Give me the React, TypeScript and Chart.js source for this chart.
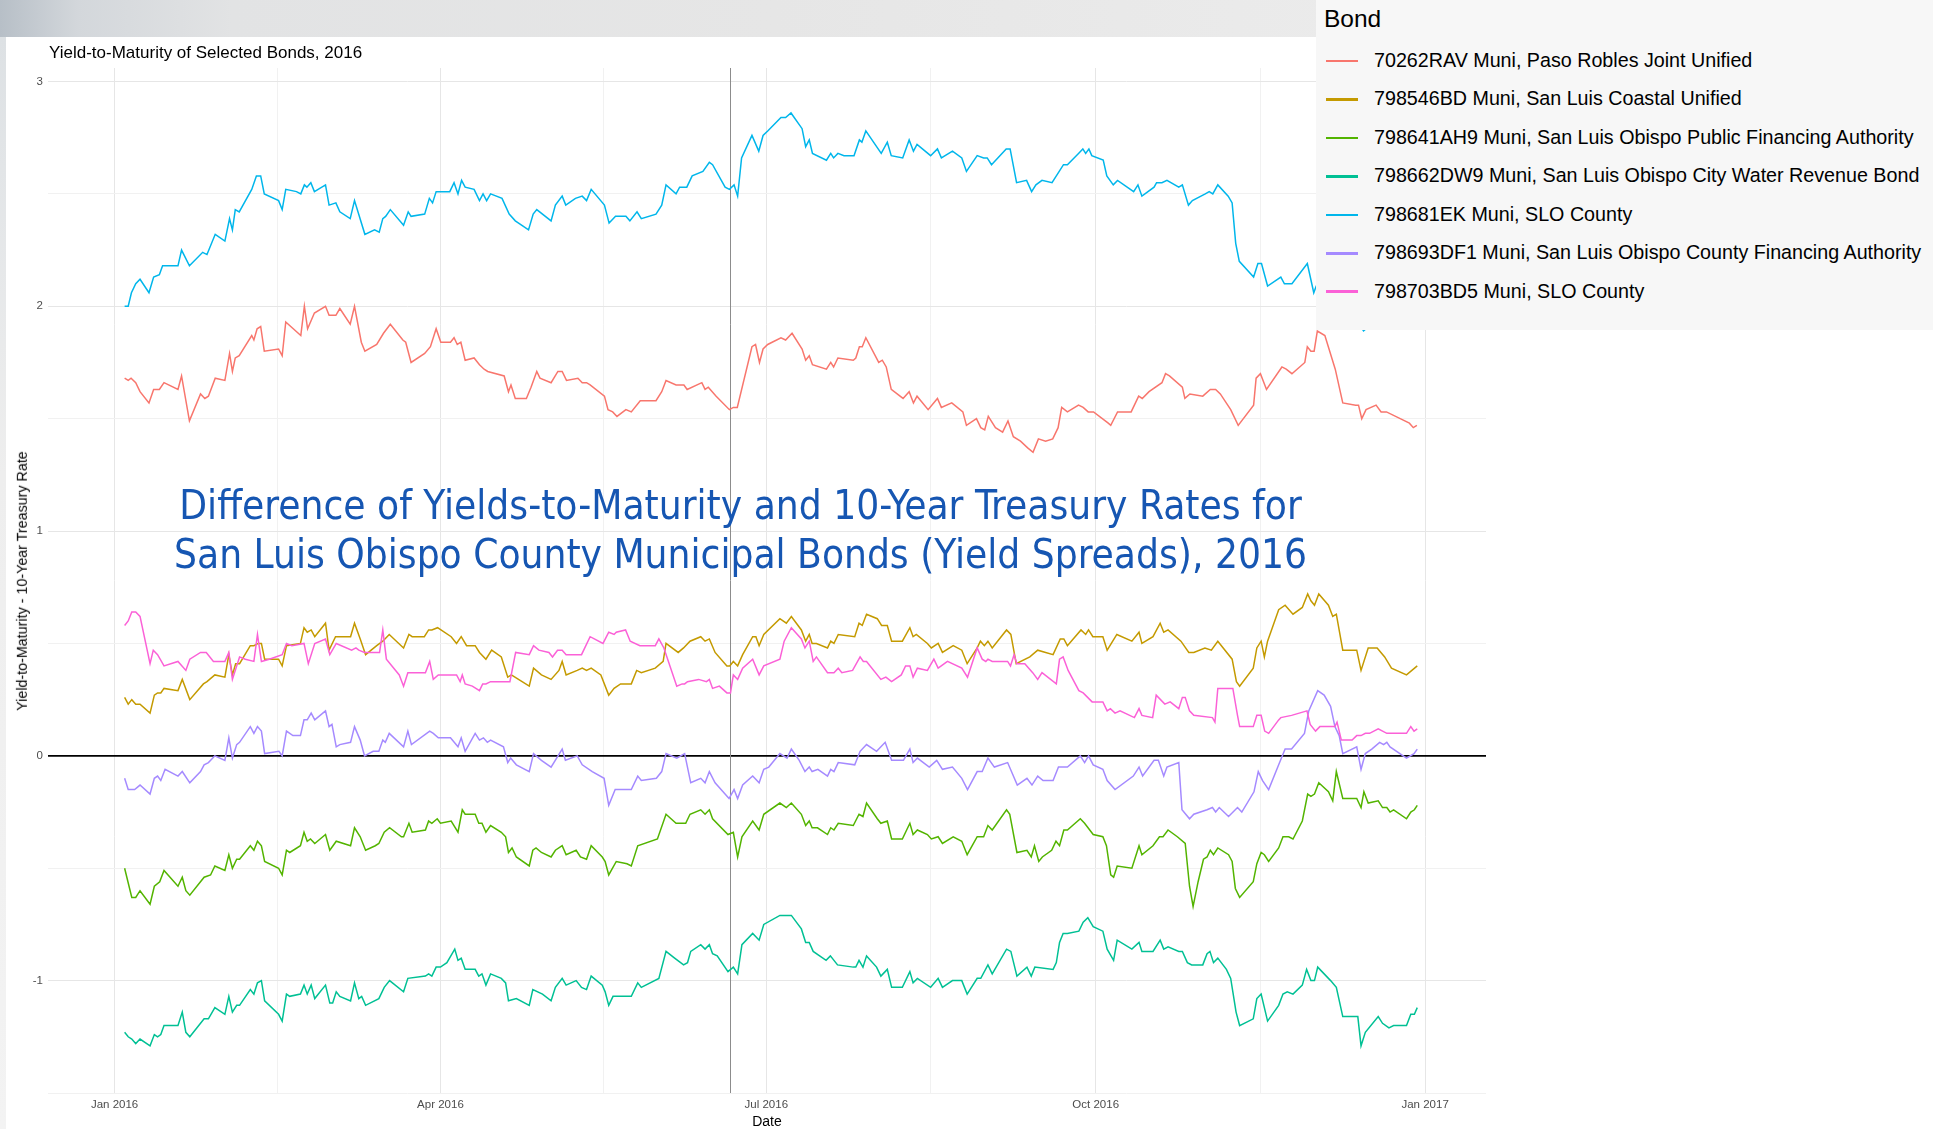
import React, { useEffect, useRef } from 'react';
import { Chart, registerables } from 'chart.js';

Chart.register(...registerables);

// ---------- DATA (day of 2016, 0 = 1 Jan 2016; value = YTM - 10y Treasury) ----------
const BOND_NAMES = [
  '70262RAV Muni, Paso Robles Joint Unified',
  '798546BD Muni, San Luis Coastal Unified',
  '798641AH9 Muni, San Luis Obispo Public Financing Authority',
  '798662DW9 Muni, San Luis Obispo City Water Revenue Bond',
  '798681EK Muni, SLO County',
  '798693DF1 Muni, San Luis Obispo County Financing Authority',
  '798703BD5 Muni, SLO County',
];
const BOND_COLORS = ['#F8766D', '#C49A00', '#53B400', '#00C094', '#00B6EB', '#A58AFF', '#FB61D7'];

const X_TICKS = [0, 45.5, 91, 136.5, 182, 228, 274, 320, 366];
const X_TICK_LABELS = ['Jan 2016', '', 'Apr 2016', '', 'Jul 2016', '', 'Oct 2016', '', 'Jan 2017'];
const Y_TICKS = [-1.5, -1, -0.5, 0, 0.5, 1, 1.5, 2, 2.5, 3];
const Y_TICK_LABELS = ['', '-1', '', '0', '', '1', '', '2', '', '3'];
const MARKER_DAY = 172;

const RED_70262RAV = [[2.8,1.68],[3.8,1.67],[4.6,1.68],[5.9,1.66],[7.1,1.62],[9.6,1.57],[10.9,1.63],[12.5,1.63],[13.8,1.66],[17.7,1.63],[18.7,1.69],[20.9,1.49],[24,1.61],[25.2,1.59],[26.2,1.60],[28.1,1.68],[30.8,1.67],[32.1,1.79],[32.9,1.71],[33.7,1.77],[34.8,1.78],[38.3,1.87],[38.9,1.85],[39.8,1.90],[40.8,1.91],[41.8,1.80],[45.8,1.81],[46.8,1.78],[47.8,1.93],[52,1.87],[53,2.00],[53.9,1.90],[55.8,1.97],[58.9,2.00],[59.9,1.96],[61.8,1.96],[62.9,1.99],[65.8,1.92],[67,2.00],[68.9,1.84],[69.9,1.80],[73.2,1.83],[75.1,1.88],[77,1.92],[80.5,1.85],[81.3,1.84],[82.8,1.75],[86.6,1.79],[88.2,1.82],[89.8,1.90],[91.1,1.84],[93.8,1.84],[94.8,1.86],[95.7,1.83],[96.7,1.84],[97.9,1.76],[100.4,1.77],[101.9,1.74],[103.2,1.72],[104.2,1.71],[108.8,1.69],[110,1.62],[110.7,1.65],[111.9,1.59],[115,1.59],[116.3,1.64],[117.9,1.71],[118.8,1.68],[121.9,1.66],[123.8,1.71],[125,1.71],[126.2,1.67],[129.4,1.68],[130.6,1.66],[131.8,1.66],[132.8,1.65],[136.8,1.60],[137.8,1.54],[139.1,1.53],[140.3,1.51],[142.8,1.54],[144.3,1.53],[146.8,1.58],[151.2,1.58],[152.8,1.62],[154,1.67],[156.8,1.65],[159,1.65],[159.9,1.63],[164,1.66],[164.9,1.63],[165.8,1.64],[168,1.60],[171.7,1.54],[172.8,1.55],[173.9,1.55],[178,1.82],[179,1.83],[180.1,1.75],[181.1,1.81],[182.4,1.83],[186.1,1.86],[187.4,1.85],[189.2,1.88],[192,1.81],[193,1.76],[194,1.78],[194.9,1.74],[198.8,1.72],[200,1.75],[200.8,1.73],[202,1.77],[206.3,1.76],[207,1.77],[208,1.82],[208.8,1.82],[209.8,1.86],[213.4,1.75],[214.4,1.76],[215.5,1.73],[216.9,1.63],[220.2,1.59],[221.9,1.62],[223.1,1.57],[224.1,1.60],[227.2,1.54],[229.8,1.59],[230.9,1.55],[233.8,1.57],[236.9,1.53],[237.9,1.47],[240.7,1.50],[241.9,1.46],[243,1.45],[244,1.51],[246,1.46],[248,1.44],[249.5,1.49],[251,1.42],[253,1.40],[255,1.37],[256.5,1.35],[258,1.41],[260,1.40],[262,1.41],[263.5,1.46],[264.5,1.55],[266.1,1.53],[269.2,1.56],[270.5,1.55],[271.9,1.53],[273.4,1.53],[277.5,1.48],[278.2,1.47],[280.1,1.53],[283.9,1.53],[286,1.60],[287,1.59],[288.9,1.62],[292.5,1.66],[293.5,1.70],[294.6,1.69],[298.2,1.64],[298.9,1.59],[300.3,1.61],[303.9,1.60],[306,1.63],[307.5,1.63],[308.8,1.61],[311.7,1.54],[313.8,1.47],[318.1,1.56],[318.8,1.68],[320,1.70],[321.7,1.63],[326,1.73],[327.2,1.72],[328.8,1.70],[332.4,1.75],[333.1,1.82],[334.1,1.80],[335,1.80],[335.9,1.89],[338,1.87],[340.9,1.72],[343,1.57],[346.6,1.56],[347.4,1.56],[348.3,1.50],[349.5,1.54],[352.3,1.56],[353.7,1.53],[355.2,1.53],[361.6,1.48],[362.7,1.46],[363.7,1.47]];

const GOLD_798546BD = [[2.8,0.26],[3.8,0.23],[4.8,0.25],[5.9,0.23],[7.1,0.23],[9.9,0.19],[11.1,0.27],[12,0.28],[12.9,0.28],[13.8,0.30],[17.7,0.29],[18.9,0.34],[21,0.25],[24.8,0.32],[25.8,0.33],[28,0.36],[30.8,0.35],[31.9,0.45],[32.9,0.36],[33.8,0.41],[34.9,0.41],[37.9,0.49],[38.9,0.49],[40.1,0.50],[41,0.50],[41.9,0.43],[45.8,0.43],[46.8,0.40],[48,0.49],[51.9,0.50],[52.9,0.57],[53.8,0.55],[54.9,0.56],[55.9,0.53],[58.9,0.59],[59.9,0.47],[61.7,0.53],[62.9,0.53],[65.9,0.53],[67,0.59],[68.6,0.52],[70.1,0.45],[73.2,0.49],[74.9,0.51],[76.7,0.54],[80.7,0.48],[82.2,0.54],[83.1,0.53],[86.5,0.53],[87.7,0.56],[88.6,0.56],[90.2,0.57],[94,0.53],[95.5,0.50],[96.8,0.53],[98.3,0.49],[100.7,0.49],[101.9,0.46],[103.7,0.43],[105.3,0.47],[108,0.44],[109.8,0.35],[110.8,0.36],[115.8,0.31],[117,0.39],[119.2,0.36],[121.9,0.34],[124.1,0.38],[125,0.42],[126.1,0.36],[129.2,0.38],[130.6,0.39],[131.8,0.38],[133.1,0.39],[135.8,0.36],[138,0.27],[139.5,0.30],[141.3,0.32],[144.3,0.32],[145.8,0.38],[147.1,0.37],[151,0.39],[153.2,0.42],[154,0.50],[157.4,0.46],[158.9,0.48],[160.7,0.51],[163.7,0.53],[164.9,0.51],[166.1,0.52],[167.7,0.46],[171,0.40],[171.8,0.40],[172.8,0.42],[174,0.40],[175.4,0.45],[178.2,0.53],[179.1,0.53],[180,0.49],[181.3,0.54],[185.8,0.61],[187.6,0.59],[189,0.62],[191.8,0.56],[193,0.51],[194,0.54],[194.8,0.50],[196,0.50],[199.1,0.48],[200,0.51],[200.9,0.50],[202.1,0.54],[206.7,0.53],[207.9,0.59],[208.8,0.58],[210,0.63],[213,0.61],[214.2,0.58],[215.8,0.58],[217,0.51],[220,0.51],[222.1,0.57],[223,0.53],[223.9,0.54],[227,0.50],[228.1,0.48],[230,0.50],[231.2,0.46],[234.2,0.49],[236.6,0.47],[238.1,0.41],[240.9,0.48],[241.8,0.51],[242.9,0.49],[243.9,0.51],[245.1,0.48],[249.1,0.56],[250.3,0.54],[251.8,0.41],[255.6,0.44],[257.8,0.47],[262.1,0.45],[264.1,0.52],[265.1,0.52],[266.1,0.49],[269.9,0.56],[271.2,0.54],[272,0.56],[273.2,0.53],[276,0.53],[277.2,0.47],[279.9,0.54],[284.1,0.51],[286.1,0.55],[286.9,0.50],[290,0.53],[292,0.59],[293,0.55],[294.2,0.56],[297.8,0.51],[300,0.46],[301.4,0.46],[304.5,0.48],[306.3,0.47],[308.1,0.51],[312.1,0.43],[313.3,0.33],[314.2,0.31],[318,0.39],[319,0.48],[320.2,0.51],[321.1,0.44],[322,0.51],[325.1,0.65],[326.9,0.67],[329.1,0.63],[331.7,0.66],[333.2,0.72],[334.1,0.69],[335.1,0.67],[336.3,0.72],[339,0.67],[340.2,0.62],[341.2,0.63],[343,0.47],[346.9,0.47],[348.1,0.38],[350.1,0.48],[352.6,0.48],[354.7,0.44],[356.6,0.39],[360.8,0.36],[363.8,0.40]];

const GREEN_798641AH9 = [[2.8,-0.50],[4.8,-0.63],[5.9,-0.63],[7.1,-0.60],[9.9,-0.66],[11.1,-0.58],[12.6,-0.56],[13.8,-0.51],[17.7,-0.58],[18.9,-0.54],[19.9,-0.60],[21,-0.62],[25,-0.54],[26.8,-0.53],[28,-0.49],[30.8,-0.51],[31.9,-0.44],[32.9,-0.50],[34.1,-0.46],[34.9,-0.46],[37.9,-0.40],[38.9,-0.42],[39.9,-0.38],[41,-0.40],[41.9,-0.47],[45.8,-0.50],[46.8,-0.53],[48,-0.42],[48.9,-0.43],[51.9,-0.40],[52.9,-0.34],[53.8,-0.38],[54.7,-0.37],[55.9,-0.39],[58.9,-0.35],[60.1,-0.42],[61.9,-0.38],[65.9,-0.40],[67,-0.32],[68.6,-0.36],[70.1,-0.42],[72.8,-0.40],[73.8,-0.39],[75.3,-0.34],[76.8,-0.32],[80.1,-0.36],[80.7,-0.36],[82.2,-0.30],[83.1,-0.34],[86.8,-0.33],[87.7,-0.29],[88.6,-0.30],[90.1,-0.28],[91,-0.30],[94,-0.29],[95.9,-0.34],[97.1,-0.24],[97.9,-0.26],[100.7,-0.26],[101.7,-0.30],[102.6,-0.30],[103.7,-0.34],[105,-0.31],[108,-0.34],[109.2,-0.36],[110,-0.43],[111,-0.41],[112.2,-0.45],[115.8,-0.49],[116.8,-0.42],[117.7,-0.41],[119.2,-0.43],[121.9,-0.45],[123.1,-0.42],[125,-0.40],[126.1,-0.44],[128.9,-0.42],[130.1,-0.45],[131.8,-0.46],[133.1,-0.40],[136.2,-0.45],[137,-0.47],[138,-0.53],[140.1,-0.47],[143.1,-0.48],[144.3,-0.49],[146.1,-0.40],[151.6,-0.37],[154,-0.26],[156.8,-0.30],[159.5,-0.30],[160.7,-0.26],[163.7,-0.24],[164.9,-0.26],[166.1,-0.24],[167,-0.28],[171.3,-0.35],[172.8,-0.34],[174,-0.45],[175.2,-0.36],[178.2,-0.29],[180,-0.33],[181.3,-0.26],[185.8,-0.21],[187.6,-0.23],[189,-0.21],[191.8,-0.26],[193,-0.31],[194,-0.29],[194.8,-0.32],[196.3,-0.32],[199.1,-0.35],[200,-0.32],[200.9,-0.33],[202.1,-0.30],[206.3,-0.31],[207.9,-0.26],[209,-0.27],[210,-0.21],[213,-0.28],[214,-0.30],[215.8,-0.29],[217,-0.37],[220,-0.37],[222.1,-0.30],[223,-0.35],[224.2,-0.33],[227,-0.35],[228.1,-0.37],[230,-0.36],[231.2,-0.39],[234.2,-0.36],[236.6,-0.38],[238.1,-0.44],[240.9,-0.36],[242.7,-0.36],[243.9,-0.31],[245.1,-0.33],[249.1,-0.24],[250,-0.26],[252,-0.43],[254.8,-0.42],[256,-0.45],[256.9,-0.40],[258.1,-0.47],[259.1,-0.45],[261.7,-0.42],[262.9,-0.38],[263.9,-0.40],[265.1,-0.33],[266.1,-0.33],[269.7,-0.28],[270.9,-0.30],[273.3,-0.35],[276,-0.36],[277,-0.40],[278.2,-0.53],[279,-0.54],[280,-0.49],[284.1,-0.50],[286.1,-0.40],[286.9,-0.44],[290,-0.40],[291.8,-0.36],[292.8,-0.36],[294.2,-0.33],[296.8,-0.36],[299,-0.39],[300.2,-0.58],[301.2,-0.67],[302.6,-0.56],[304.1,-0.46],[305.1,-0.45],[306,-0.42],[306.9,-0.44],[308.1,-0.41],[311.1,-0.44],[312.1,-0.47],[313,-0.59],[314.2,-0.63],[318,-0.56],[319,-0.48],[320.2,-0.43],[321.1,-0.44],[322.3,-0.47],[325.1,-0.41],[326.3,-0.36],[327.9,-0.36],[329.1,-0.37],[331.7,-0.29],[333.2,-0.17],[334.1,-0.18],[335.1,-0.17],[336.3,-0.12],[339,-0.16],[340.2,-0.20],[341.2,-0.07],[343,-0.19],[346.9,-0.19],[348.1,-0.23],[348.9,-0.16],[350.1,-0.21],[352.9,-0.20],[354.1,-0.23],[355.3,-0.23],[356.2,-0.25],[357.2,-0.24],[360.8,-0.28],[362,-0.25],[363,-0.24],[363.8,-0.22]];

const TEAL_798662DW9 = [[2.8,-1.23],[3.8,-1.25],[4.8,-1.26],[5.9,-1.28],[7.1,-1.26],[9.9,-1.29],[11.1,-1.24],[12,-1.25],[12.9,-1.24],[13.8,-1.20],[17.7,-1.20],[18.9,-1.14],[19.9,-1.23],[21,-1.25],[25,-1.17],[26.2,-1.17],[28,-1.12],[30.8,-1.15],[31.9,-1.07],[32.9,-1.14],[34.1,-1.11],[34.9,-1.11],[37.9,-1.04],[38.9,-1.06],[39.9,-1.01],[41,-1.00],[41.9,-1.09],[45.8,-1.15],[46.8,-1.18],[48,-1.06],[48.9,-1.07],[51.9,-1.06],[52.9,-1.02],[53.8,-1.06],[54.9,-1.02],[55.9,-1.08],[58.9,-1.02],[60.1,-1.10],[60.9,-1.10],[61.9,-1.05],[62.9,-1.07],[65.9,-1.09],[67,-1.01],[68.2,-1.08],[69,-1.07],[70.1,-1.11],[73.8,-1.08],[75.3,-1.03],[76.8,-1.00],[80.7,-1.05],[81.9,-0.99],[86.8,-0.98],[87.7,-0.97],[88.6,-0.98],[89.8,-0.94],[91,-0.94],[92.8,-0.92],[95,-0.86],[95.9,-0.91],[96.8,-0.90],[97.9,-0.95],[100.7,-0.95],[101.7,-0.98],[102.6,-0.97],[103.7,-1.02],[105,-0.97],[108,-0.99],[109.2,-1.01],[110,-1.09],[112.2,-1.08],[115.8,-1.11],[116.8,-1.04],[119.5,-1.06],[121.9,-1.09],[123.1,-1.03],[125,-0.99],[126.1,-1.02],[128.9,-1.00],[130.4,-1.03],[131.8,-1.04],[133.1,-0.98],[136.2,-1.02],[137,-1.05],[138,-1.11],[139.2,-1.07],[144.3,-1.07],[146.1,-1.01],[147.1,-1.03],[152,-0.99],[154,-0.87],[156.4,-0.90],[158.9,-0.93],[160,-0.92],[160.9,-0.87],[163.7,-0.84],[164.9,-0.86],[166.1,-0.84],[167,-0.88],[168.3,-0.89],[171.3,-0.96],[172.8,-0.94],[174,-0.97],[175.2,-0.84],[178.2,-0.79],[180,-0.82],[181.3,-0.75],[185.8,-0.71],[187.6,-0.71],[189,-0.71],[191.8,-0.77],[193,-0.83],[194,-0.83],[195.1,-0.87],[198.7,-0.91],[199.9,-0.89],[201.9,-0.93],[206.3,-0.94],[207,-0.94],[207.9,-0.91],[209,-0.94],[210,-0.89],[212.8,-0.94],[214,-0.98],[215.8,-0.95],[217,-1.03],[220,-1.03],[222.1,-0.96],[223,-1.01],[224.2,-0.99],[227.9,-1.03],[230,-0.99],[231.2,-1.03],[234,-1.00],[236.6,-1.00],[238.1,-1.06],[240.9,-0.99],[241.9,-0.99],[243.9,-0.93],[245.1,-0.97],[249.1,-0.86],[250.3,-0.87],[252,-0.98],[254.8,-0.94],[256,-0.98],[257,-0.94],[262.1,-0.95],[263,-0.92],[263.9,-0.83],[264.9,-0.79],[266.1,-0.79],[269.3,-0.78],[270.5,-0.74],[271.8,-0.72],[273.3,-0.76],[276,-0.78],[277.2,-0.86],[279,-0.91],[280,-0.82],[284.1,-0.86],[286.1,-0.83],[286.9,-0.87],[290,-0.87],[292,-0.82],[293,-0.86],[294.2,-0.85],[297.2,-0.87],[298.2,-0.87],[299.6,-0.92],[300.8,-0.93],[303.9,-0.93],[305.1,-0.88],[305.9,-0.87],[306.9,-0.92],[308.1,-0.90],[310.5,-0.95],[311.7,-0.99],[312.3,-1.05],[313.2,-1.14],[314.2,-1.20],[318,-1.17],[319,-1.08],[320.2,-1.06],[322,-1.18],[325.1,-1.11],[326.3,-1.06],[327.5,-1.05],[329.1,-1.06],[331.7,-1.02],[332.9,-0.95],[334.1,-1.00],[335.1,-1.00],[336,-0.94],[339.6,-1.00],[341.2,-1.03],[343,-1.16],[346.3,-1.16],[347.2,-1.16],[348.1,-1.29],[349.3,-1.23],[352.9,-1.16],[354.1,-1.19],[355.9,-1.21],[357.2,-1.20],[360.8,-1.20],[362,-1.15],[363,-1.15],[363.8,-1.12]];

const CYAN_798681EK = [[2.8,2.00],[3.8,2.00],[4.7,2.06],[5.9,2.10],[7.1,2.12],[9.6,2.06],[10.9,2.13],[12.5,2.14],[13.4,2.18],[17.7,2.18],[18.7,2.25],[20.9,2.18],[24.6,2.24],[25.8,2.23],[28.1,2.32],[30.8,2.29],[32.1,2.39],[32.9,2.34],[33.7,2.43],[34.8,2.42],[38.3,2.52],[39.6,2.58],[40.8,2.58],[41.8,2.50],[45.8,2.47],[46.8,2.43],[47.8,2.52],[50.8,2.51],[52,2.50],[53,2.54],[53.7,2.53],[54.8,2.55],[55.8,2.51],[58.9,2.54],[59.9,2.45],[61.8,2.46],[62.9,2.42],[65.8,2.39],[67,2.47],[69.9,2.32],[72.6,2.34],[73.9,2.33],[74.9,2.39],[75.7,2.40],[77,2.43],[80.7,2.36],[82,2.42],[82.8,2.40],[86.6,2.41],[87.9,2.48],[88.8,2.46],[89.8,2.51],[93.6,2.51],[94.8,2.55],[95.9,2.50],[96.9,2.56],[97.9,2.53],[100.4,2.52],[101.9,2.47],[102.9,2.50],[103.9,2.47],[105,2.50],[108.2,2.48],[110.2,2.41],[111.9,2.38],[115.6,2.34],[116.9,2.41],[117.9,2.43],[121.9,2.38],[123.1,2.45],[125,2.49],[126,2.45],[128.7,2.48],[130.6,2.49],[131.8,2.47],[133.1,2.52],[136.8,2.45],[138.1,2.37],[139.9,2.40],[142.8,2.40],[143.9,2.38],[145.9,2.42],[147.1,2.39],[151.2,2.41],[152.8,2.45],[154,2.54],[156.8,2.50],[157.8,2.53],[159.8,2.53],[161.3,2.58],[164.3,2.60],[166.1,2.64],[167,2.63],[170.5,2.53],[171.7,2.52],[173,2.54],[174,2.49],[175.1,2.66],[178,2.76],[179.9,2.69],[181.1,2.76],[182.4,2.78],[186.1,2.84],[187.4,2.84],[188.9,2.86],[192,2.79],[193,2.71],[194,2.74],[194.9,2.68],[198.8,2.65],[200,2.68],[200.8,2.66],[202,2.68],[203.7,2.67],[206.5,2.67],[208,2.74],[208.7,2.73],[209.8,2.78],[214.1,2.68],[215.8,2.73],[216.9,2.67],[220.1,2.66],[221.9,2.74],[223.1,2.69],[224.1,2.72],[227.9,2.67],[229.8,2.70],[230.9,2.66],[234,2.69],[236.6,2.66],[237.9,2.60],[240.9,2.67],[242.7,2.66],[243.7,2.66],[244.9,2.63],[249,2.70],[250.1,2.70],[251.9,2.55],[254.7,2.56],[256.1,2.51],[257.3,2.54],[259,2.56],[261.8,2.55],[265,2.63],[266.1,2.63],[269.2,2.68],[270.4,2.70],[271.2,2.68],[272.1,2.70],[272.9,2.67],[276.1,2.65],[277.1,2.58],[278.9,2.54],[280.1,2.56],[284.6,2.51],[285.8,2.54],[286.9,2.49],[290.3,2.53],[291,2.55],[292.5,2.55],[293.9,2.56],[297.2,2.53],[298.2,2.54],[299.9,2.45],[301,2.47],[304.6,2.50],[305.7,2.51],[306.7,2.50],[308.1,2.54],[311,2.49],[312.1,2.46],[313.1,2.28],[314.1,2.20],[318.1,2.13],[319.3,2.19],[320.3,2.19],[322,2.09],[325.7,2.13],[326.7,2.10],[328.8,2.10],[333.1,2.19],[334.9,2.06],[335.6,2.09],[338,2.12],[341,2.03],[344,2.05],[346,1.96],[348.8,1.89],[351,1.92],[354,1.96],[357,1.93],[360,1.95],[363.7,1.91]];

const PURPLE_798693DF1 = [[2.8,-0.10],[3.8,-0.15],[5.6,-0.15],[7.1,-0.13],[9.9,-0.17],[11.1,-0.10],[12,-0.09],[12.9,-0.11],[14.1,-0.06],[17.7,-0.09],[18.9,-0.07],[21,-0.12],[24,-0.07],[25,-0.04],[26.2,-0.03],[28,0.00],[30.8,-0.02],[31.9,0.08],[32.9,-0.01],[34.1,0.05],[34.9,0.06],[37.9,0.13],[38.9,0.10],[39.9,0.13],[41,0.11],[41.9,0.01],[45.9,0.02],[46.8,0.00],[48,0.11],[49.8,0.09],[51.9,0.09],[52.9,0.16],[53.8,0.16],[54.9,0.19],[55.9,0.16],[58.9,0.20],[59.9,0.13],[60.7,0.14],[61.9,0.04],[62.9,0.05],[65.9,0.06],[67,0.13],[68.6,0.07],[69.8,0.00],[72.2,0.02],[73.8,0.02],[74.9,0.07],[75.6,0.06],[76.7,0.10],[80.7,0.04],[81.9,0.11],[82.9,0.05],[88,0.11],[89,0.10],[90.4,0.08],[93.8,0.08],[95.9,0.04],[96.8,0.08],[97.9,0.02],[100.7,0.10],[101.9,0.07],[103,0.08],[104.1,0.06],[105,0.07],[108.6,0.04],[109.8,-0.03],[110.6,-0.01],[112.2,-0.04],[115.8,-0.07],[117,0.01],[119.2,-0.02],[121.9,-0.05],[125,0.03],[125.9,-0.02],[129.2,0.00],[130.6,-0.04],[133.4,-0.07],[136.7,-0.10],[138,-0.22],[139.8,-0.15],[144.3,-0.15],[146.1,-0.09],[147.1,-0.11],[151.3,-0.10],[152.8,-0.07],[154,0.01],[157,-0.01],[159.2,0.01],[160.9,-0.12],[163.7,-0.10],[164.9,-0.12],[166.1,-0.07],[167.7,-0.12],[171.6,-0.19],[173,-0.15],[174,-0.19],[175.4,-0.13],[178.2,-0.09],[180,-0.12],[181.3,-0.06],[182.7,-0.05],[185.8,0.01],[187.8,-0.01],[189,0.03],[191.2,-0.02],[192.8,-0.07],[194,-0.05],[194.8,-0.07],[196.4,-0.06],[199.1,-0.09],[200,-0.06],[200.9,-0.07],[202.1,-0.03],[206.7,-0.04],[208.2,0.02],[210,0.05],[212.8,0.02],[215.2,0.06],[217,-0.02],[220.3,-0.02],[222.1,0.03],[223,-0.03],[224.2,-0.01],[227.5,-0.05],[229.6,-0.02],[231.2,-0.06],[234,-0.05],[236.6,-0.10],[238.2,-0.15],[240.9,-0.07],[242.3,-0.07],[243.9,-0.01],[245.7,-0.05],[249.4,-0.03],[252.1,-0.13],[254.8,-0.10],[256.2,-0.13],[257.8,-0.09],[259.3,-0.11],[262.1,-0.11],[263.6,-0.05],[266.1,-0.05],[269.7,0.00],[270.9,-0.03],[272,0.00],[273.3,-0.04],[276,-0.06],[277.2,-0.11],[279.4,-0.15],[284.5,-0.09],[286.1,-0.05],[287.1,-0.09],[290.3,-0.02],[291.5,-0.02],[293,-0.09],[293.9,-0.05],[297.2,-0.03],[298.1,-0.24],[300.2,-0.28],[301.4,-0.26],[305.1,-0.24],[306.6,-0.23],[307.5,-0.25],[308.5,-0.23],[311.1,-0.27],[313.6,-0.23],[314.8,-0.25],[318.2,-0.16],[319.4,-0.07],[320.6,-0.11],[322.3,-0.15],[325.1,-0.04],[326.9,0.03],[328.7,0.03],[332.3,0.10],[333.5,0.20],[336,0.29],[337.8,0.27],[339.6,0.22],[340.8,0.13],[342,0.09],[343,0.01],[346.9,0.04],[348.1,-0.06],[349.3,0.01],[351.1,0.03],[353.3,0.06],[354.4,0.05],[355.3,0.06],[356.2,0.04],[360.8,-0.01],[362.9,0.01],[363.8,0.03]];

const PINK_798703BD5 = [[2.8,0.58],[3.8,0.60],[4.8,0.64],[5.9,0.64],[7.1,0.62],[9.9,0.41],[10.8,0.47],[12,0.45],[13.8,0.40],[17.7,0.42],[19.9,0.38],[21,0.43],[24,0.46],[25.6,0.46],[27.6,0.42],[30.8,0.42],[31.9,0.46],[32.9,0.34],[34.9,0.44],[36.5,0.43],[38.9,0.42],[39.9,0.54],[41,0.42],[43.2,0.43],[46.8,0.45],[48,0.50],[49.5,0.49],[52.9,0.50],[54.1,0.41],[55.9,0.50],[58.9,0.52],[60.1,0.45],[61.9,0.50],[66.2,0.47],[67.4,0.48],[68.2,0.47],[69.8,0.46],[74,0.46],[74.9,0.56],[75.9,0.43],[79.5,0.36],[80.7,0.31],[81.9,0.37],[83.1,0.37],[86.8,0.37],[88,0.42],[89,0.34],[90.4,0.36],[94,0.36],[95.5,0.36],[96.5,0.33],[97.1,0.36],[97.9,0.32],[99.9,0.31],[101.9,0.29],[102.8,0.32],[103.7,0.32],[105,0.33],[108.6,0.33],[110.4,0.33],[112,0.46],[115.8,0.45],[117,0.49],[118.5,0.47],[121.3,0.46],[122.3,0.44],[123.7,0.47],[125,0.47],[126.1,0.45],[130.4,0.45],[132.8,0.53],[136.4,0.50],[138,0.55],[139.5,0.54],[140.1,0.55],[142.7,0.56],[144,0.51],[146.7,0.49],[151,0.49],[152,0.52],[153.4,0.48],[157,0.31],[158.5,0.32],[159.2,0.32],[160,0.33],[163.1,0.34],[165.3,0.33],[166.1,0.34],[167,0.30],[168.9,0.31],[171,0.28],[172,0.28],[172.8,0.36],[174,0.34],[175.4,0.39],[178.2,0.43],[180,0.36],[181.3,0.40],[185.8,0.43],[187,0.51],[189,0.57],[191.8,0.52],[192.8,0.48],[194,0.51],[195.1,0.42],[196,0.44],[199.1,0.37],[200.9,0.37],[202.1,0.39],[203.1,0.37],[206.1,0.38],[208.2,0.44],[209.1,0.42],[210,0.42],[214,0.34],[215.4,0.35],[217,0.33],[219.7,0.36],[220.9,0.40],[222.1,0.40],[223,0.35],[224.2,0.39],[227,0.38],[228.8,0.43],[230,0.39],[232.6,0.42],[236.6,0.39],[238.2,0.35],[240.9,0.48],[242.3,0.43],[243.3,0.42],[243.9,0.43],[245.1,0.42],[249.4,0.42],[250.2,0.40],[251.2,0.45],[252,0.41],[254.2,0.41],[256.4,0.37],[257.8,0.34],[259,0.37],[263,0.32],[263.9,0.43],[264.9,0.44],[266.3,0.38],[269.3,0.29],[270.5,0.28],[273,0.24],[276,0.24],[277.2,0.20],[278.1,0.21],[279.4,0.19],[280.8,0.20],[284.8,0.17],[286.1,0.21],[286.9,0.18],[289.9,0.17],[290.9,0.27],[293.3,0.23],[294.8,0.24],[297.2,0.21],[298.2,0.26],[299,0.26],[300.2,0.20],[301.4,0.18],[306.6,0.17],[307.3,0.15],[308.1,0.30],[311.7,0.30],[312.3,0.30],[313.6,0.18],[314.2,0.13],[318,0.13],[319,0.18],[320.2,0.18],[321.2,0.11],[322.3,0.10],[325.1,0.16],[325.7,0.17],[328.7,0.18],[333,0.20],[333.9,0.14],[335.4,0.11],[336.6,0.13],[340.8,0.13],[341.4,0.15],[342.6,0.07],[345.6,0.07],[346.9,0.09],[348.1,0.09],[349.3,0.10],[350.5,0.10],[352.9,0.12],[355.3,0.10],[357.2,0.10],[360.8,0.10],[362,0.13],[362.9,0.11],[363.8,0.12]];

const SERIES = [RED_70262RAV, GOLD_798546BD, GREEN_798641AH9, TEAL_798662DW9, CYAN_798681EK, PURPLE_798693DF1, PINK_798703BD5];

// ---------- STYLE ----------
const SANS = '"Liberation Sans", Arial, Helvetica, sans-serif';
const W = 1933;
const H = 1129;

const markerPlugin = {
  id: 'marker',
  beforeDatasetsDraw(chart: any) {
    const { ctx, chartArea, scales } = chart;
    const x = Math.round(scales.x.getPixelForValue(MARKER_DAY)) + 0.5;
    ctx.save();
    ctx.strokeStyle = '#8c8c8c';
    ctx.lineWidth = 1;
    ctx.beginPath();
    ctx.moveTo(x, chartArea.top);
    ctx.lineTo(x, chartArea.bottom);
    ctx.stroke();
    ctx.restore();
  },
};

export default function App() {
  const canvasRef = useRef<HTMLCanvasElement | null>(null);

  useEffect(() => {
    const canvas = canvasRef.current;
    if (!canvas) return;
    const chart = new Chart(canvas, {
      type: 'line',
      data: {
        datasets: SERIES.map((pts, i) => ({
          label: BOND_NAMES[i],
          data: pts.map(([d, v]) => ({ x: d, y: v })),
          borderColor: BOND_COLORS[i],
          backgroundColor: BOND_COLORS[i],
          borderWidth: 1.5,
          pointRadius: 0,
          tension: 0,
          fill: false,
          order: 10 - i,
        })),
      },
      options: {
        responsive: false,
        animation: false,
        devicePixelRatio: 1,
        events: [],
        layout: { padding: { left: 0, top: 68, right: 447, bottom: 6 } },
        plugins: {
          legend: { display: false },
          tooltip: { enabled: false },
          title: { display: false },
        },
        scales: {
          x: {
            type: 'linear',
            min: -18.6,
            max: 383,
            afterFit: (s: any) => { s.height = 30; },
            afterBuildTicks: (s: any) => { s.ticks = X_TICKS.map((v) => ({ value: v })); },
            ticks: {
              autoSkip: false,
              maxRotation: 0,
              padding: 5,
              color: '#4d4d4d',
              font: { family: SANS, size: 11.5 },
              callback: (_v: any, idx: number) => X_TICK_LABELS[idx] ?? '',
            },
            grid: {
              drawTicks: false,
              color: (c: any) => (c.index % 2 === 0 ? '#e6e6e6' : '#f1f1f1'),
              lineWidth: 1,
            },
            border: { display: false },
          },
          y: {
            type: 'linear',
            min: -1.5,
            max: 3.06,
            afterFit: (s: any) => { s.width = 48; },
            afterBuildTicks: (s: any) => { s.ticks = Y_TICKS.map((v) => ({ value: v })); },
            ticks: {
              autoSkip: false,
              padding: 5,
              color: '#4d4d4d',
              font: { family: SANS, size: 11.5 },
              callback: (_v: any, idx: number) => Y_TICK_LABELS[idx] ?? '',
            },
            grid: {
              drawTicks: false,
              color: (c: any) => {
                const v = c.tick ? c.tick.value : 1;
                if (v === 0) return '#000000';
                return Number.isInteger(v) ? '#e6e6e6' : '#f1f1f1';
              },
              lineWidth: (c: any) => (c.tick && c.tick.value === 0 ? 1.8 : 1),
            },
            border: { display: false },
          },
        },
      },
      plugins: [markerPlugin],
    } as any);
    return () => chart.destroy();
  }, []);

  const legendY0 = 61;
  const legendStep = 38.45;

  return (
    <div style={{ position: 'absolute', left: 0, top: 0, width: W, height: H, background: '#ffffff', overflow: 'hidden', fontFamily: SANS }}>
      {/* faint textured backdrop strips */}
      <div style={{ position: 'absolute', left: 0, top: 0, width: W, height: 37, background: 'linear-gradient(90deg, #b7bfc7 0%, #d3d7db 4%, #e2e3e4 12%, #e6e6e6 40%, #ebebeb 70%, #eeeeee 100%)' }} />
      <div style={{ position: 'absolute', left: 0, top: 37, width: 6, height: H - 37, background: 'linear-gradient(180deg, #dde1e4 0%, #eeeeee 40%, #f3f3f3 100%)' }} />

      <canvas ref={canvasRef} width={W} height={H} style={{ position: 'absolute', left: 0, top: 0, width: W, height: H }} />

      {/* plot subtitle */}
      <div style={{ position: 'absolute', left: 49, top: 52, transform: 'translateY(-50%)', fontSize: 17, lineHeight: 1, color: '#000', whiteSpace: 'nowrap' }}>
        Yield-to-Maturity of Selected Bonds, 2016
      </div>

      {/* axis titles */}
      <div style={{ position: 'absolute', left: 21.5, top: 580.5, transform: 'translate(-50%, -50%) rotate(-90deg)', fontSize: 14.3, lineHeight: 1, color: '#000', whiteSpace: 'nowrap' }}>
        Yield-to-Maturity - 10-Year Treasury Rate
      </div>
      <div style={{ position: 'absolute', left: 767, top: 1120.5, transform: 'translate(-50%, -50%)', fontSize: 14, lineHeight: 1, color: '#000', whiteSpace: 'nowrap' }}>
        Date
      </div>

      {/* overlay headline */}
      <div style={{ position: 'absolute', left: 40.5, top: 481.2, width: 1400, textAlign: 'center', fontFamily: '"DejaVu Sans Condensed", "DejaVu Sans", sans-serif', fontStretch: 'condensed', fontSize: 40.2, lineHeight: '48.5px', color: '#1656b2', whiteSpace: 'nowrap' }}>
        <div>Difference of Yields-to-Maturity and 10-Year Treasury Rates for</div>
        <div>San Luis Obispo County Municipal Bonds (Yield Spreads), 2016</div>
      </div>

      {/* legend */}
      <div style={{ position: 'absolute', left: 1316, top: 0, width: W - 1316, height: 330, background: '#f7f7f7' }} />
      <div style={{ position: 'absolute', left: 1324, top: 19, transform: 'translateY(-50%)', fontSize: 24.5, lineHeight: 1, color: '#000', whiteSpace: 'nowrap' }}>
        Bond
      </div>
      {BOND_NAMES.map((name, i) => (
        <React.Fragment key={name}>
          <div style={{ position: 'absolute', left: 1326, top: legendY0 + i * legendStep - 1.25, width: 32, height: 2.5, background: BOND_COLORS[i] }} />
          <div style={{ position: 'absolute', left: 1374, top: legendY0 + i * legendStep, transform: 'translateY(-50%)', fontSize: 19.7, lineHeight: 1, color: '#000', whiteSpace: 'nowrap' }}>
            {name}
          </div>
        </React.Fragment>
      ))}
    </div>
  );
}
